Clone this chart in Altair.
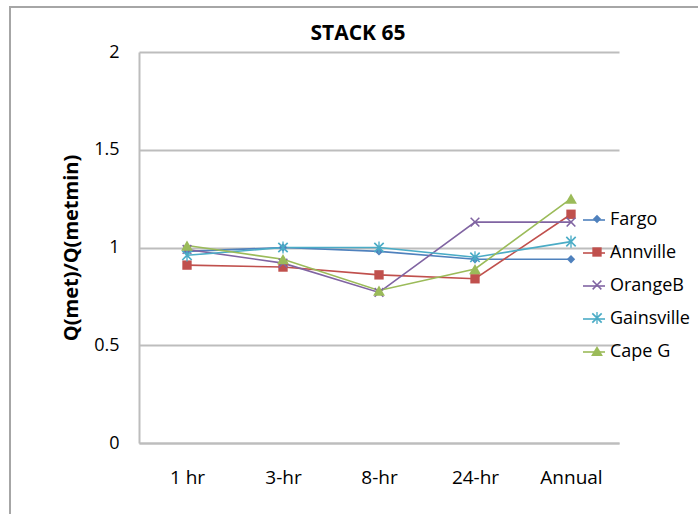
import altair as alt
import pandas as pd

periods = ["1 hr", "3-hr", "8-hr", "24-hr", "Annual"]
series = ["Fargo", "Annville", "OrangeB", "Gainsville", "Cape G"]
fargo = [0.98, 1.00, 0.98, 0.94, 0.94]
annville = [0.91, 0.90, 0.86, 0.84, 1.17]
orangeb = [0.99, 0.92, 0.77, 1.13, 1.13]
gainsville = [0.96, 1.00, 1.00, 0.95, 1.03]
capeg = [1.01, 0.94, 0.78, 0.89, 1.25]
y_ticks = [0, 0.5, 1, 1.5, 2]

colors = ["#4F81BD", "#C0504D", "#8064A2", "#4BACC6", "#9BBB59"]
X_SHAPE = ("M0.742,-0.955L0.955,-0.742L0.212,0L0.955,0.742L0.742,0.955L0,0.212"
           "L-0.742,0.955L-0.955,0.742L-0.212,0L-0.955,-0.742L-0.742,-0.955L0,-0.212Z")
STAR_SHAPE = X_SHAPE + "M-0.12,-1.1L0.12,-1.1L0.12,1.1L-0.12,1.1Z"
shapes = ["diamond", "square", X_SHAPE, STAR_SHAPE, "triangle-up"]
sizes = [70, 140, 110, 110, 130]

values = [fargo, annville, orangeb, gainsville, capeg]
rows = []
for s, vals in zip(series, values):
    for p, v in zip(periods, vals):
        rows.append({"series": s, "period": p, "value": v})
df = pd.DataFrame(rows)

FONT = "Open Sans"
GRID = "#BDBDBD"

x_enc = alt.X(
    "period:N",
    sort=periods,
    title=None,
    axis=alt.Axis(
        labelAngle=0, ticks=False, grid=False, domainColor=GRID, domainWidth=2,
        labelFont=FONT, labelFontSize=19, labelColor="#000000", labelPadding=25,
    ),
)
y_enc = alt.Y(
    "value:Q",
    scale=alt.Scale(domain=[0, 2], nice=False, zero=True),
    axis=alt.Axis(
        title="Q(met)/Q(metmin)", titleFont=FONT, titleFontSize=20, titleFontWeight="bold",
        titleColor="#000000", titlePadding=12, values=y_ticks, format=".1~f",
        ticks=False, grid=True, gridColor=GRID, gridWidth=2, domainColor=GRID, domainWidth=2,
        labelFont=FONT, labelFontSize=18, labelColor="#000000", labelPadding=20,
    ),
)

base = alt.Chart(df)

border = alt.Chart(pd.DataFrame({"k": [0]})).mark_rect(
    filled=False, stroke="#A6A6A6", strokeWidth=2
).encode(x=alt.value(-129), x2=alt.value(640), y=alt.value(-45), y2=alt.value(540))

line_legend = alt.Legend(
    orient="none", legendX=443, legendY=156, title=None, symbolType="stroke",
    symbolSize=484, symbolStrokeWidth=1.6, labelFont=FONT, labelFontSize=18,
    labelColor="#000000", labelOffset=4, rowPadding=12,
)
lines = base.mark_line(strokeWidth=1.6).encode(
    x=x_enc, y=y_enc,
    color=alt.Color("series:N", scale=alt.Scale(domain=series, range=colors), legend=line_legend),
)

pt_legend = alt.Legend(
    orient="none", legendX=449, legendY=158, title=None, symbolSize=60,
    symbolStrokeWidth=0, labelFont=FONT, labelFontSize=18, labelExpr="''",
    labelOffset=4, rowPadding=15,
)
points = base.mark_point(filled=True, opacity=1).encode(
    x=x_enc, y=y_enc,
    color=alt.Color("series:N", scale=alt.Scale(domain=series, range=colors), legend=pt_legend),
    shape=alt.Shape("series:N", scale=alt.Scale(domain=series, range=shapes), legend=pt_legend),
    size=alt.Size("series:O", scale=alt.Scale(domain=series, range=sizes), legend=None),
)

chart = alt.layer(border, lines, points).resolve_scale(
    color="independent", shape="independent", size="independent"
).resolve_legend(color="independent", shape="independent").properties(
    width=480,
    height=391,
    autosize=alt.AutoSizeParams(type="none"),
    padding={"left": 139, "top": 52, "right": 79, "bottom": 71},
    title=alt.Title(
        "STACK 65", font=FONT, fontSize=21, fontWeight="bold", color="#000000",
        anchor="middle", dx=-21, offset=12, dy=50,
    ),
    background="#FFFFFF",
).configure_view(stroke=None)

chart.save("out.html", embed_options={"renderer": "svg", "actions": False})
